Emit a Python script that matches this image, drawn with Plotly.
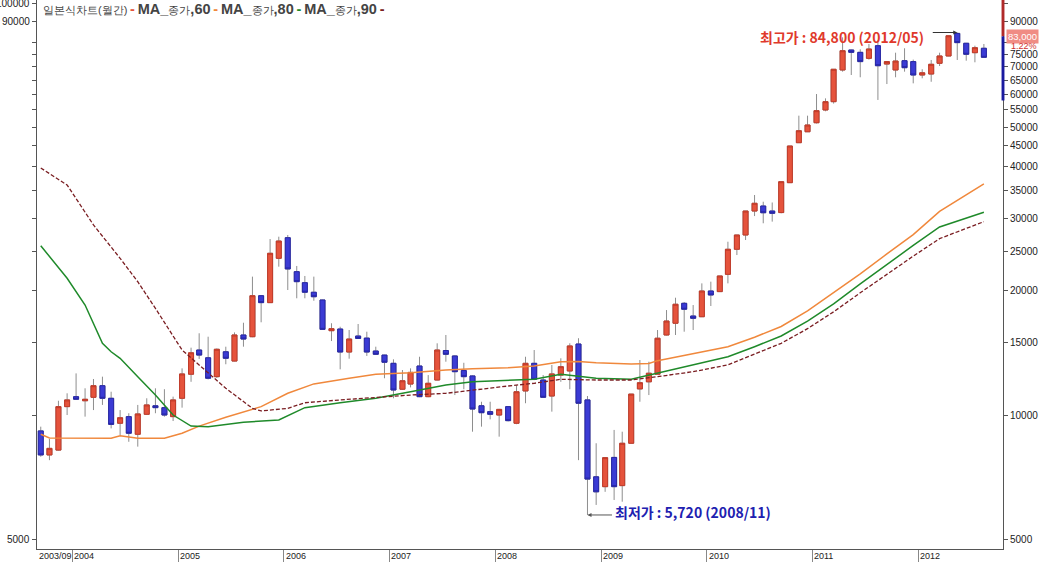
import numpy as np
import pandas as pd
import plotly.graph_objects as go

# ---------------- data (monthly, 2003/09 .. 2012/08) ----------------
start_month = "2003-09-01"
n_months = 108

open_ = [9150, 8000, 8220, 10480, 11080, 10830, 11040, 11780, 10980, 9550, 9910, 8980,
         10040, 10530, 10420, 9910, 10980, 12560, 14380, 13770, 12390, 14240, 13520, 15640,
         15490, 19480, 18740, 24010, 26940, 22280, 20950, 19860, 19020, 16020, 16170, 14220,
         15550, 15370, 14300, 13980, 13350, 11550, 11890, 13150, 11080, 12160, 14340, 13910,
         12820, 12440, 10530, 10190, 10000, 10480, 9550, 11440, 13350, 12160, 11120, 12500,
         12790, 14870, 10880, 7080, 6700, 7890, 6740, 8540, 11570, 12040, 12560, 15640,
         16700, 18670, 17390, 17320, 20000, 19930, 21950, 25250, 27350, 31270, 32160, 31270,
         31000, 36640, 45810, 48700, 51220, 55000, 57610, 68780, 76900, 75910, 73410, 78780,
         71100, 68780, 72440, 72070, 66870, 67250, 71400, 74370, 84370, 79850, 75750, 77650]
high = [9370, 8750, 10830, 11290, 12620, 11610, 12230, 12390, 11390, 10280, 10100, 10580,
        10980, 11610, 11550, 11080, 12980, 14570, 15790, 15490, 14500, 14650, 15870, 16750,
        21670, 19550, 26740, 27090, 27350, 23000, 21750, 21670, 19050, 16700, 16380, 16080,
        16630, 15930, 14650, 14000, 13650, 12860, 12980, 13850, 12500, 14930, 15640, 13950,
        13390, 12480, 10770, 10770, 10350, 10500, 11820, 13850, 14380, 12500, 13230, 13730,
        14930, 15360, 11120, 8540, 7880, 9200, 9110, 11240, 13600, 13470, 16080, 17980,
        19260, 18800, 18490, 20870, 21070, 21750, 26340, 27350, 31270, 34200, 32940, 32800,
        36840, 44970, 53280, 53280, 60130, 58690, 69100, 82540, 77000, 77200, 79540, 80970,
        72100, 75750, 77650, 72880, 69050, 72730, 75750, 83280, 84800, 80000, 78780, 79540]
low = [7920, 7770, 8200, 10000, 10900, 9910, 10280, 10580, 9280, 8940, 8610, 8380,
       10000, 10100, 9910, 9670, 10420, 12040, 13680, 12200, 12300, 13280, 13500, 14650,
       15450, 16790, 18700, 22910, 20110, 19200, 19200, 18940, 16100, 15120, 12910, 13700,
       15300, 13910, 14000, 12280, 10980, 11500, 11670, 11050, 11050, 12150, 13470, 11180,
       11550, 9110, 9370, 9760, 8860, 9650, 9500, 10680, 12150, 11000, 10190, 12040,
       11550, 7770, 5720, 6050, 6510, 6220, 6160, 8530, 10770, 11180, 12550, 15600,
       15640, 15930, 16080, 17300, 18390, 19900, 20870, 24450, 26590, 30400, 29200, 29470,
       30870, 36600, 45800, 48650, 51000, 54600, 57000, 68130, 66870, 66030, 72880, 58170,
       63580, 66030, 68130, 63830, 65650, 64400, 70320, 74300, 72730, 72440, 71800, 73800]
close = [8000, 8300, 10480, 10880, 10920, 10920, 11780, 10980, 9490, 9850, 9030, 10060,
         10580, 10420, 10000, 10880, 12580, 14160, 13980, 12280, 14440, 13730, 15640, 15290,
         19480, 18740, 24690, 26440, 22620, 21070, 19860, 19370, 16140, 16200, 14220, 15290,
         15340, 14220, 14040, 13430, 11500, 12110, 12690, 11080, 11940, 14380, 14040, 12740,
         12390, 10340, 10130, 10040, 10320, 9690, 11390, 13350, 12210, 11040, 12580, 13100,
         14710, 10680, 6990, 6510, 7880, 6700, 8540, 11240, 11980, 12630, 15360, 16910,
         18570, 18060, 17170, 20000, 19560, 21750, 25250, 27350, 31270, 32650, 30970, 30870,
         36840, 44970, 48980, 50570, 54790, 57610, 69050, 76600, 75910, 72070, 77320, 70440,
         72070, 72300, 69660, 66870, 67700, 71000, 74370, 83280, 80130, 75080, 77900, 73820]

# moving averages (month, value)
ma60_month = ["2003-09", "2003-10", "2004-05", "2004-06", "2004-08", "2004-11", "2005-01", "2005-03",
              "2005-06", "2005-10", "2006-01", "2006-04", "2006-08", "2006-11", "2007-03", "2007-07",
              "2007-10", "2008-02", "2008-05", "2008-08", "2008-10", "2008-12", "2009-04", "2009-06",
              "2009-07", "2009-11", "2010-03", "2010-06", "2010-09", "2010-12", "2011-03", "2011-06",
              "2011-09", "2011-12", "2012-03", "2012-08"]
ma60_value = [8980, 8800, 8780, 8910, 8780, 8780, 9030, 9400,
              9880, 10480, 11290, 11900, 12280, 12560, 12670, 12860,
              12950, 13030, 13150, 13470, 13490, 13390, 13300, 13340,
              13550, 14100, 14650, 15450, 16400, 17900, 19800, 22000,
              24600, 27400, 31200, 36400]

ma80_month = ["2003-09", "2003-12", "2004-02", "2004-04", "2004-05", "2004-06", "2004-08", "2004-10",
              "2004-12", "2005-02", "2005-04", "2005-08", "2005-12", "2006-03", "2006-07", "2006-11",
              "2007-03", "2007-07", "2007-10", "2008-05", "2008-08", "2008-12", "2009-04", "2009-07",
              "2009-11", "2010-03", "2010-06", "2010-09", "2010-12", "2011-03", "2011-06", "2011-09",
              "2011-12", "2012-03", "2012-08"]
ma80_value = [25760, 21470, 18490, 14930, 14240, 13730, 12390, 11180,
              10000, 9400, 9370, 9600, 9730, 10420, 10710, 10980,
              11390, 11820, 12040, 12210, 12560, 12280, 12210, 12630,
              13230, 13850, 14650, 15550, 16900, 18600, 20800, 23200,
              25800, 28600, 31050]

ma90_month = ["2003-09", "2003-12", "2004-03", "2004-06", "2004-08", "2004-10", "2005-01", "2005-03",
              "2005-06", "2005-09", "2005-10", "2006-01", "2006-03", "2006-07", "2006-11", "2007-03",
              "2007-07", "2007-10", "2008-02", "2008-05", "2008-08", "2008-12", "2009-04", "2009-07",
              "2009-11", "2010-03", "2010-06", "2010-09", "2010-12", "2011-03", "2011-06", "2011-09",
              "2011-12", "2012-03", "2012-08"]
ma90_value = [39770, 36160, 28930, 24010, 21060, 18150, 14380, 13230,
              11610, 10380, 10230, 10380, 10710, 10880, 11040, 11180,
              11290, 11500, 11760, 11940, 12210, 12160, 12160, 12390,
              12740, 13230, 14060, 14930, 16200, 17800, 19800, 22000,
              24300, 26800, 29460]

y_tick_values = [5000, 10000, 15000, 20000, 25000, 30000, 35000, 40000, 45000, 50000,
                 55000, 60000, 65000, 70000, 75000, 80000, 90000, 100000]
x_tick_years = [2004, 2005, 2006, 2007, 2008, 2009, 2010, 2011, 2012]

high_label = "최고가 : 84,800 (2012/05)"
low_label = "최저가 : 5,720 (2008/11)"

# ---------------- derived ----------------
months = pd.date_range(start_month, periods=n_months, freq="MS")
xdates = months + pd.Timedelta(days=14)
o = np.array(open_, float); c = np.array(close, float)
body_hi = np.maximum(o, c); body_lo = np.minimum(o, c)

def mdate(ms):
    return pd.to_datetime([m + "-15" for m in ms])

RED_FILL, RED_LINE = "#E5533C", "#C23A28"
BLUE_FILL, BLUE_LINE = "#3B3BD4", "#2626A6"
ORANGE, GREEN, DRED = "#F0883C", "#1F8A2A", "#7A1E22"

fig = go.Figure()
fig.add_trace(go.Candlestick(
    x=xdates, open=open_, high=high, low=low, close=close,
    increasing=dict(line=dict(color="#8E8E8E", width=1), fillcolor="rgba(0,0,0,0)"),
    decreasing=dict(line=dict(color="#8E8E8E", width=1), fillcolor="rgba(0,0,0,0)"),
    whiskerwidth=0, hoverinfo="skip", showlegend=False))
fig.add_trace(go.Candlestick(
    x=xdates, open=open_, high=body_hi, low=body_lo, close=close,
    increasing=dict(line=dict(color=RED_LINE, width=1), fillcolor=RED_FILL),
    decreasing=dict(line=dict(color=BLUE_LINE, width=1), fillcolor=BLUE_FILL),
    whiskerwidth=0, showlegend=False))

fig.add_trace(go.Scatter(x=mdate(ma60_month), y=ma60_value, mode="lines",
                         line=dict(color=ORANGE, width=1.5), showlegend=False))
fig.add_trace(go.Scatter(x=mdate(ma80_month), y=ma80_value, mode="lines",
                         line=dict(color=GREEN, width=1.5), showlegend=False))
fig.add_trace(go.Scatter(x=mdate(ma90_month), y=ma90_value, mode="lines",
                         line=dict(color=DRED, width=1.3, dash="4px,2px"), showlegend=False))

yr = [3.6748, 5.0073]
FONT = "Liberation Sans, Arial, sans-serif"
KFONT = "Noto Sans CJK KR, sans-serif"

right_text = [("" if v == 80000 else str(v)) for v in y_tick_values]

fig.update_layout(
    width=1040, height=562,
    margin=dict(l=37, r=37, t=0, b=13),
    paper_bgcolor="white", plot_bgcolor="white",
    boxgap=0.12,
    showlegend=False,
    xaxis=dict(type="date", range=["2003-09-02", "2012-10-20"], rangeslider=dict(visible=False),
               showgrid=False, zeroline=False, showline=True, linecolor="#555", linewidth=1,
               ticks="outside", ticklen=14, tickcolor="#888", tickwidth=1,
               tickvals=[f"{yv}-01-01" for yv in x_tick_years], showticklabels=False),
    yaxis=dict(type="log", range=yr, side="right", showgrid=False, zeroline=False,
               showline=True, linecolor="#555", linewidth=1, ticks="outside", ticklen=4,
               tickcolor="#555", tickvals=y_tick_values, ticktext=right_text,
               tickfont=dict(family=FONT, size=10, color="#222")),
    yaxis2=dict(type="log", range=yr, side="left", overlaying="y", showgrid=False, zeroline=False,
                showline=True, linecolor="#555", linewidth=1, ticks="outside", ticklen=4,
                tickcolor="#555", tickvals=y_tick_values, showticklabels=False),
)
fig.add_trace(go.Scatter(x=[xdates[0]], y=[10000], yaxis="y2", mode="markers",
                         marker=dict(opacity=0), hoverinfo="skip", showlegend=False))

ann = []
ann.append(dict(x="2003-09-02", y=0, xref="x", yref="paper", yshift=-7, xshift=0, text="2003/09",
                showarrow=False, xanchor="left", yanchor="middle",
                font=dict(family=FONT, size=9, color="#222")))
for yv in x_tick_years:
    ann.append(dict(x=f"{yv}-01-01", y=0, xref="x", yref="paper", yshift=-7, xshift=0,
                    text=str(yv), showarrow=False, xanchor="left", yanchor="middle",
                    font=dict(family=FONT, size=9, color="#222")))
for val in (100000, 90000, 5000):
    ann.append(dict(x=0, y=np.log10(val), xref="paper", yref="y", xshift=-5, text=str(val),
                    showarrow=False, xanchor="right", yanchor="middle",
                    font=dict(family=FONT, size=10, color="#222")))

sep = lambda col: f'<span style="font-size:10px"> </span><span style="color:{col}"><b>-</b></span><span style="font-size:10px"> </span>'
ma_lbl = lambda n: f'<b>MA_</b><span style="font-size:11px">종가</span><b>,{n}</b>'
legend_html = ('<span style="font-size:11px">일본식차트(월간)</span>'
               + sep(RED_FILL) + ma_lbl(60) + sep(ORANGE) + ma_lbl(80) + sep(GREEN)
               + ma_lbl(90) + sep(DRED))
ann.append(dict(x=0, y=1, xref="paper", yref="paper", xshift=4, yshift=-9, text=legend_html,
                showarrow=False, xanchor="left", yanchor="middle",
                font=dict(family=FONT, size=14.5, color="#444")))

hi_x = "2012-05-15"; hi_v = 84800
lo_x = "2008-11-15"; lo_v = 5720
ann.append(dict(x=hi_x, y=np.log10(hi_v), xref="x", yref="y", ax=-26, ay=0, text="",
                showarrow=True, arrowhead=2, arrowsize=0.8, arrowwidth=1, arrowcolor="#333"))
ann.append(dict(x=hi_x, y=np.log10(hi_v), xref="x", yref="y", xshift=-31, yshift=-4,
                text=f"<b>{high_label}</b>", showarrow=False, xanchor="right", yanchor="middle",
                font=dict(family=KFONT, size=14, color="#E0392B")))
ann.append(dict(x=lo_x, y=np.log10(lo_v), xref="x", yref="y", ax=26, ay=0, text="",
                showarrow=True, arrowhead=2, arrowsize=0.8, arrowwidth=1, arrowcolor="#555"))
ann.append(dict(x=lo_x, y=np.log10(lo_v), xref="x", yref="y", xshift=26, yshift=3,
                text=f"<b>{low_label}</b>", showarrow=False, xanchor="left", yanchor="middle",
                font=dict(family=KFONT, size=14, color="#2020B0")))

ann.append(dict(x=1, y=np.log10(83000), xref="paper", yref="y", xshift=3, text="83,000",
                showarrow=False, xanchor="left", yanchor="middle", bgcolor="#F08C84",
                borderpad=1, font=dict(family=FONT, size=9.5, color="white")))
ann.append(dict(x=1, y=np.log10(83000), xref="paper", yref="y", xshift=6, yshift=-10,
                text="1.22%", showarrow=False, xanchor="left", yanchor="middle",
                font=dict(family=FONT, size=9, color="#D03030")))
fig.update_layout(annotations=ann)

fig.add_shape(type="rect", xref="paper", yref="y", x0=0.9985, x1=1.0015, y0=83000, y1=105000,
              line=dict(width=0), fillcolor="#B02A2A")
fig.add_shape(type="rect", xref="paper", yref="y", x0=0.9985, x1=1.0015, y0=58000, y1=83000,
              line=dict(width=0), fillcolor="#1A1AA0")

fig.write_html("out.html", config={"displayModeBar": False},
               post_script="document.body.style.margin='0';")
